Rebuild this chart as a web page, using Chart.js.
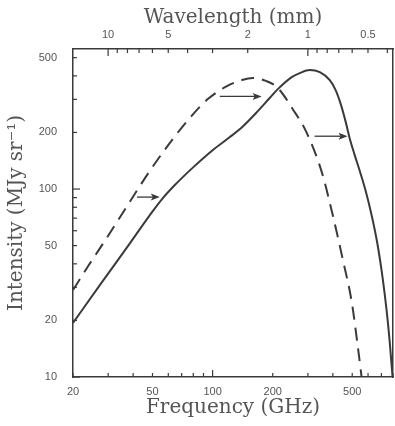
<!DOCTYPE html>
<html>
<head>
<meta charset="utf-8">
<script src="https://cdn.jsdelivr.net/npm/chart.js@4.4.1/dist/chart.umd.min.js"></script>
<style>
  html, body { margin: 0; padding: 0; background: #fff; }
  canvas { display: block; }
</style>
</head>
<body>
<canvas id="sedChart" width="395" height="426"></canvas>
<script>
// solid curve (frequency in GHz, intensity in MJy/sr)
const solidFreq = [20, 27.3, 38.6, 48.5, 55.7, 64.7, 79.6, 100, 122, 142, 165, 193, 212, 249, 273, 306, 344, 386, 413, 438, 464, 485, 514, 545, 584, 625, 670, 710, 743, 769, 796];
const solidIntensity = [19.4, 30.9, 51.6, 72.7, 88.2, 105, 130, 161, 189, 216, 254, 305, 340, 394, 414, 430, 419, 380, 336, 283, 227, 187, 152, 125, 97.6, 72.7, 50.4, 33.6, 22.7, 15.7, 10];

// dashed curve
const dashedFreq = [20, 24, 28.3, 35.2, 43.3, 48.5, 61.1, 76.9, 94.6, 118, 140, 159, 185, 212, 252, 296, 352, 395, 448, 497, 532, 557];
const dashedIntensity = [29, 39.4, 51.3, 73.6, 104, 125, 176, 239, 301, 353, 380, 390, 376, 345, 266, 199, 123, 76.4, 42.4, 25.1, 14.8, 10];

// arrows (start freq, end freq, intensity level)
const arrowFromFreq = [41.8, 108.6, 324];
const arrowToFreq = [54.4, 176, 474];
const arrowIntensity = [90.6, 311, 191];

// axis ticks
const freqTicks = [20, 50, 100, 200, 500];
const intensityTicks = [10, 20, 50, 100, 200, 500];
const wavelengthTicks = [10, 5, 2, 1, 0.5];

const FREQ_MIN = 20, FREQ_MAX = 800;
const INT_MIN = 10, INT_MAX = 556;
const C_MM_GHZ = 299.79; // wavelength (mm) = C / frequency (GHz)

const INK = "#3a3a3a";
const TEXT = "#555";

const toPoints = (xs, ys) => xs.map((x, i) => ({ x: x, y: ys[i] }));

// all 1..9 x 10^n values between lo and hi
const logSteps = (lo, hi) => {
    const out = [];
    for (let e = Math.floor(Math.log10(lo)) - 1; e <= Math.ceil(Math.log10(hi)); e++) {
        for (let m = 1; m <= 9; m++) {
            const v = m * Math.pow(10, e);
            if (v >= lo * 0.999 && v <= hi * 1.001) out.push(v);
        }
    }
    return out;
};
const isDecade = v => Math.abs(Math.log10(v) - Math.round(Math.log10(v))) < 1e-6;

const frameTicks = {
    id: "frameTicks",
    afterDatasetsDraw(chart) {
        const { ctx, chartArea: a, scales } = chart;
        ctx.save();
        ctx.strokeStyle = INK;
        ctx.lineWidth = 1.2;
        const seg = (x1, y1, x2, y2) => {
            ctx.beginPath();
            ctx.moveTo(x1, y1);
            ctx.lineTo(x2, y2);
            ctx.stroke();
        };
        // bottom frequency ticks
        logSteps(FREQ_MIN, FREQ_MAX).forEach(v => {
            const px = scales.x.getPixelForValue(v);
            seg(px, a.bottom, px, a.bottom - (isDecade(v) ? 7 : 4));
        });
        // top wavelength ticks
        logSteps(C_MM_GHZ / FREQ_MAX, C_MM_GHZ / FREQ_MIN).forEach(l => {
            const px = scales.x.getPixelForValue(C_MM_GHZ / l);
            seg(px, a.top, px, a.top + (isDecade(l) ? 7 : 4));
        });
        // left intensity ticks
        logSteps(INT_MIN, INT_MAX).forEach(v => {
            const py = scales.y.getPixelForValue(v);
            seg(a.left, py, a.left + (isDecade(v) ? 7 : 4), py);
        });

        // arrows
        ctx.fillStyle = INK;
        ctx.lineWidth = 1.3;
        arrowFromFreq.forEach((f, i) => {
            const x1 = scales.x.getPixelForValue(f);
            const x2 = scales.x.getPixelForValue(arrowToFreq[i]);
            const y = scales.y.getPixelForValue(arrowIntensity[i]);
            seg(x1, y, x2 - 6, y);
            ctx.beginPath();
            ctx.moveTo(x2, y);
            ctx.lineTo(x2 - 9, y - 3.5);
            ctx.lineTo(x2 - 7, y);
            ctx.lineTo(x2 - 9, y + 3.5);
            ctx.closePath();
            ctx.fill();
        });
        ctx.restore();
    }
};

const tickFont = { family: "'Liberation Sans', Arial, sans-serif", size: 11 };
const titleFont = { family: "'DejaVu Serif', serif", size: 20 };

new Chart(document.getElementById("sedChart"), {
    type: "line",
    data: {
        datasets: [
            {
                data: toPoints(solidFreq, solidIntensity),
                borderColor: INK,
                borderWidth: 2,
                pointRadius: 0,
                cubicInterpolationMode: "monotone",
                xAxisID: "x",
                yAxisID: "y"
            },
            {
                data: toPoints(dashedFreq, dashedIntensity),
                borderColor: INK,
                borderWidth: 2,
                borderDash: [13, 8],
                pointRadius: 0,
                cubicInterpolationMode: "monotone",
                xAxisID: "x",
                yAxisID: "y"
            }
        ]
    },
    options: {
        responsive: false,
        animation: false,
        layout: { padding: 0 },
        plugins: { legend: { display: false }, tooltip: { enabled: false } },
        scales: {
            x: {
                type: "logarithmic",
                position: "bottom",
                min: FREQ_MIN,
                max: FREQ_MAX,
                afterBuildTicks: s => { s.ticks = freqTicks.map(v => ({ value: v })); },
                afterFit: s => { s.height = 49; },
                grid: { display: false, drawTicks: false },
                border: { display: true, color: INK, width: 1.5 },
                ticks: {
                    autoSkip: false, maxRotation: 0, padding: 8,
                    color: TEXT, font: tickFont,
                    callback: v => String(v)
                },
                title: {
                    display: true, text: "Frequency (GHz)",
                    color: TEXT, font: titleFont,
                    padding: { top: 0, bottom: 6 }
                }
            },
            x2: {
                type: "logarithmic",
                position: "top",
                min: FREQ_MIN,
                max: FREQ_MAX,
                afterBuildTicks: s => { s.ticks = wavelengthTicks.map(l => ({ value: C_MM_GHZ / l })); },
                afterFit: s => { s.height = 49; },
                grid: { display: false, drawTicks: false },
                border: { display: true, color: INK, width: 1.5 },
                ticks: {
                    autoSkip: false, maxRotation: 0, padding: 7,
                    color: TEXT, font: tickFont,
                    callback: (v, i) => String(wavelengthTicks[i])
                },
                title: {
                    display: true, text: "Wavelength (mm)",
                    color: TEXT, font: titleFont,
                    padding: { top: 6, bottom: 0 }
                }
            },
            y: {
                type: "logarithmic",
                position: "left",
                min: INT_MIN,
                max: INT_MAX,
                afterBuildTicks: s => { s.ticks = intensityTicks.map(v => ({ value: v })); },
                afterFit: s => { s.width = 73; },
                grid: { display: false, drawTicks: false },
                border: { display: true, color: INK, width: 1.5 },
                ticks: {
                    autoSkip: false, padding: 16,
                    color: TEXT, font: tickFont,
                    callback: v => String(v)
                },
                title: {
                    display: true, text: "Intensity (MJy sr\u207B\u00B9)",
                    color: TEXT, font: titleFont,
                    padding: { top: 5, bottom: 0 }
                }
            },
            y2: {
                type: "logarithmic",
                position: "right",
                min: INT_MIN,
                max: INT_MAX,
                afterFit: s => { s.width = 2; },
                grid: { display: false, drawTicks: false },
                border: { display: true, color: INK, width: 1.5 },
                ticks: { display: false }
            }
        }
    },
    plugins: [frameTicks]
});
</script>
</body>
</html>
